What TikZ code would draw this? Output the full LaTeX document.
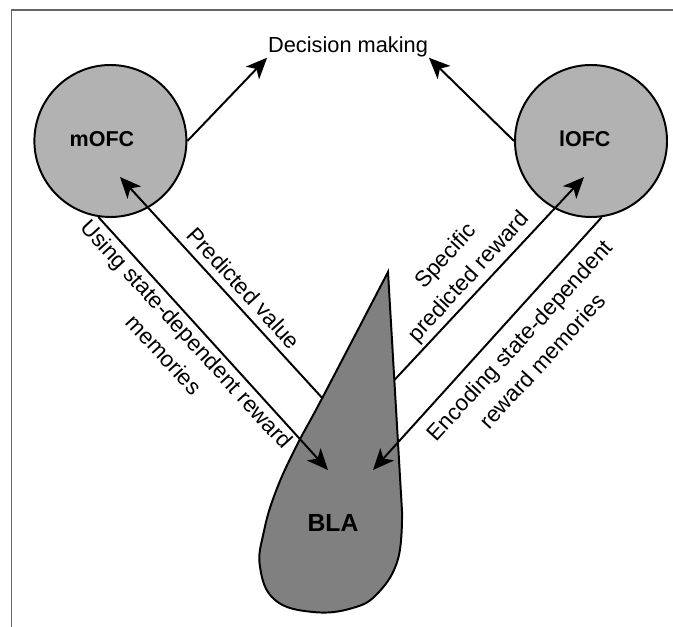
\documentclass[tikz,border=0pt]{standalone}
\usepackage{fontspec}
\setmainfont{Liberation Sans}
\usetikzlibrary{arrows.meta}

\begin{document}
\begin{tikzpicture}[line width=1.4pt,
        n/.style={circle, draw, fill=black!30, minimum size=3.8cm, inner sep=0pt},
        t/.style={font=\bfseries\fontsize{15.3}{18}\selectfont, inner sep=0pt},
        lbl/.style={align=center, font=\fontsize{16}{22}\selectfont, inner sep=0pt},
        arr/.style={-{Stealth[length=15pt, width=13pt, inset=4pt]}}]
            \useasboundingbox (0,0) rectangle (16.825,15.675);
            \draw[black!60, line width=1pt] (0.29,0) -- (0.29,15.425) -- (16.825,15.425);

            \node[n] (mofc) at (2.76, 12.15) {};
            \node[n] (lofc) at (14.775, 12.15) {};
            \node[t] (mofct) at (2.55, 12.2) {mOFC};
            \node[t] (lofct) at (14.62, 12.2) {lOFC};
            \node[font=\fontsize{15.5}{18}\selectfont, inner sep=0pt] (dec) at (8.7, 14.51) {Decision making};

            \draw[fill=black!50] (9.7,8.875) -- (10.05,2.9)
                -- plot[smooth, tension=0.7] coordinates {(10.05,2.9) (9.95,1.7) (9.45,0.85) (8.8,0.47)
                (7.825,0.375) (6.875,0.675) (6.5,1.5) (6.6,2.4) (6.9,3.4) (7.4,4.5) (8.07,5.75) (9.7,8.875)}
                -- cycle;
            \node[font=\bfseries\fontsize{17.6}{20}\selectfont, inner sep=0pt] (bla) at (8.325, 2.6) {BLA};

            \coordinate (blal) at (8.06, 5.72);
            \coordinate (blar) at (9.86, 6.175);
            \coordinate (pvtip) at (3.0, 11.25);
            \coordinate (sptip) at (14.6, 11.25);
            \coordinate (usetip) at (8.2, 3.925);
            \coordinate (enctip) at (9.325, 3.925);

            \draw[arr] (mofc.east) -- (dec.south west);
            \draw[arr] (lofc.west) -- (dec.south east);
            \draw[arr] (blal) -- (pvtip);
            \draw[arr] (blar) -- (sptip);
            \draw[arr] (mofc.261) -- (usetip);
            \draw[arr] (lofc.278) -- (enctip);

            \node[lbl, rotate=-47.5] (usel) at (4.39, 7.07) {Using state-dependent reward\\memories};
            \node[lbl, rotate=-47.5] (pvl) at (6.1, 8.475) {Predicted value};
            \node[lbl, rotate=47.5] (spl) at (11.45, 9.0) {Specific\\predicted reward};
            \node[lbl, rotate=47.5] (encl) at (13.27, 6.91) {Encoding state-dependent\\reward memories};
        \end{tikzpicture}
\end{document}
